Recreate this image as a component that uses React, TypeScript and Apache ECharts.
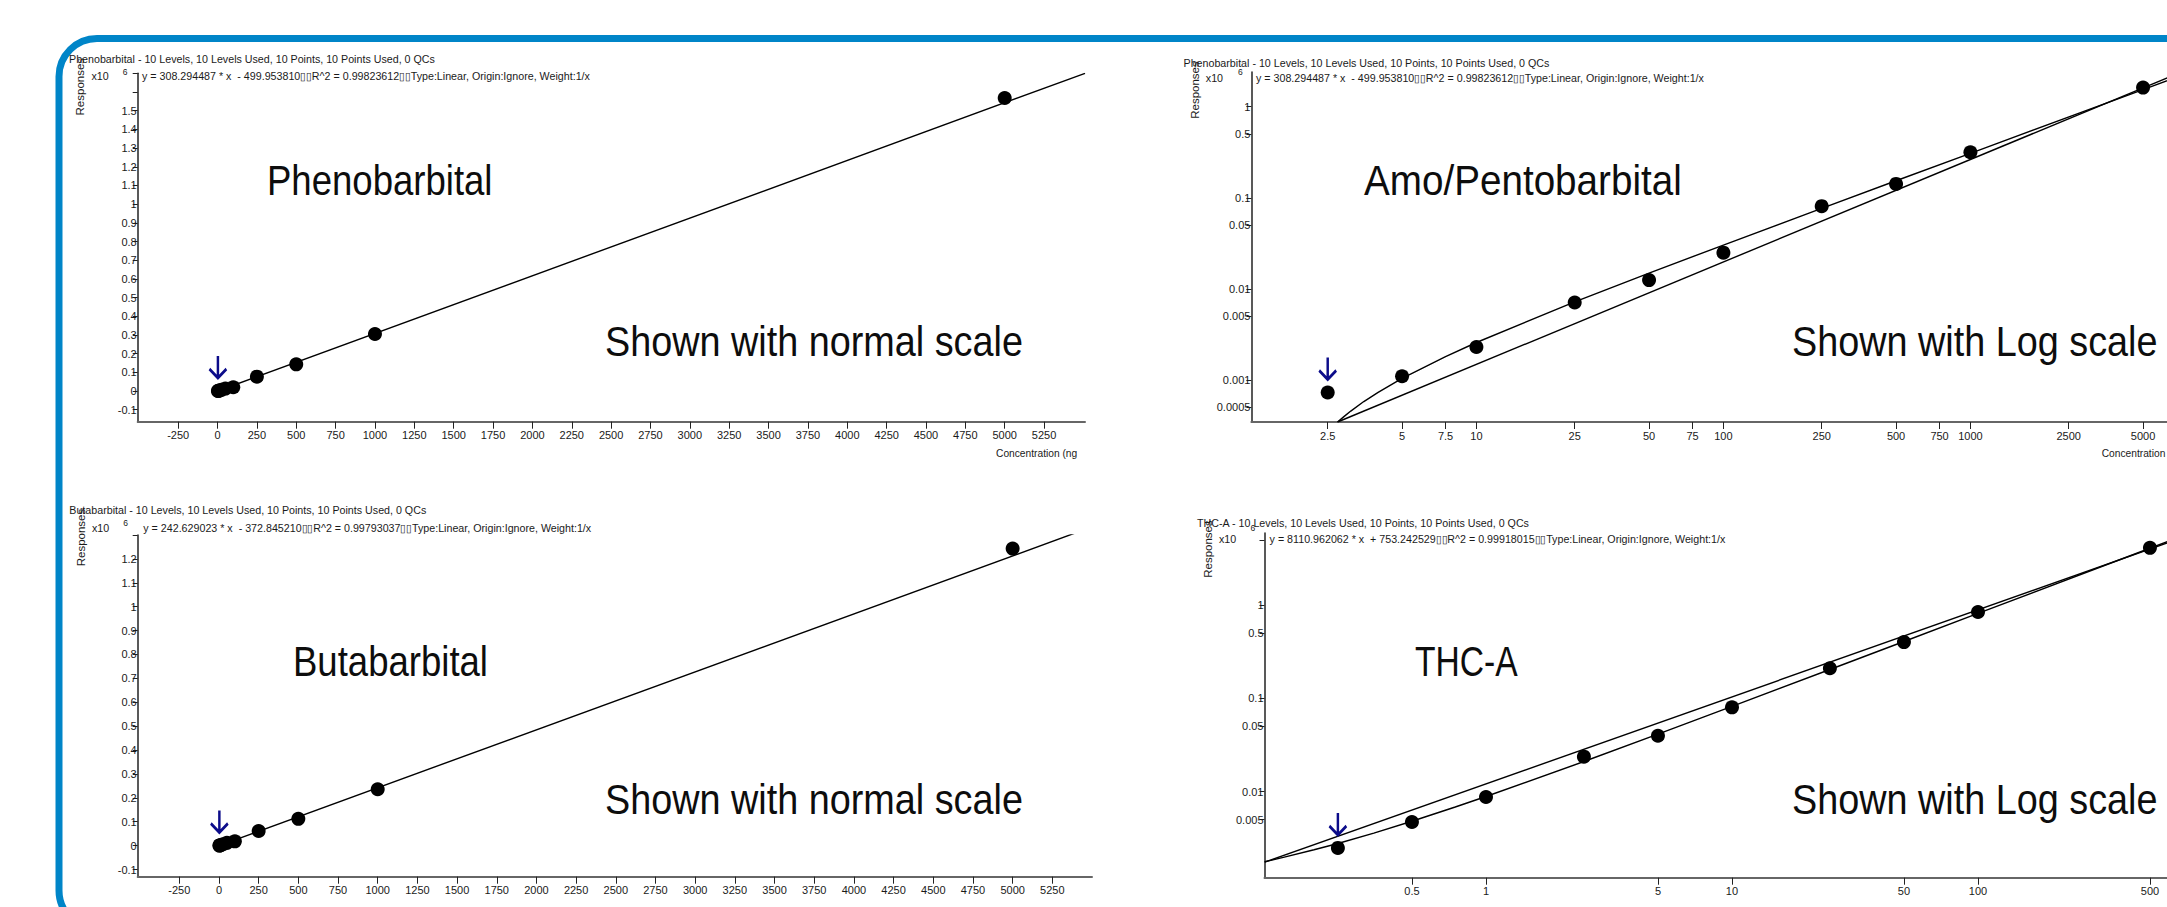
import React, { useEffect, useRef } from 'react';
import * as echarts from 'echarts';

// ---------- data (response in x10^6) ----------
const linConc = [2.5, 5, 10, 25, 50, 100, 250, 500, 1000, 5000];
const phenoResp = [0.0005, 0.0011, 0.0023, 0.0065, 0.013, 0.02, 0.077, 0.143, 0.305, 1.568];
const butaResp = [0.0003, 0.0009, 0.002, 0.0057, 0.0118, 0.018, 0.0615, 0.112, 0.236, 1.243];

const amoConc = [2.5, 5, 10, 25, 50, 100, 250, 500, 1000, 5000];
const amoResp = [0.00073, 0.0011, 0.0023, 0.0071, 0.0125, 0.025, 0.081, 0.142, 0.316, 1.62];

const thcConc = [0.25, 0.5, 1, 2.5, 5, 10, 25, 50, 100, 500];
const thcResp = [0.00249, 0.00472, 0.00875, 0.0237, 0.0397, 0.08, 0.21, 0.4, 0.84, 4.1];

// fitted curves
const phenoFit = [[2.5, 0.0003], [5510, 1.7]];
const butaFit = [[2.5, 0.0002], [5500, 1.334]];
const amoFitCurve = [
  [2.74, 0.000346], [2.9, 0.000394], [3.1, 0.000456], [3.5, 0.00058], [4, 0.00073],
  [5, 0.00104], [7.5, 0.00181], [10, 0.00258], [25, 0.0072], [50, 0.0149], [100, 0.0303],
  [250, 0.0766], [500, 0.154], [1000, 0.308], [5000, 1.54], [8000, 2.47],
];
const amoFitLine = [[2.74, 0.000346], [8000, 2.73]];
const thcFitLine = [[0.126, 0.00175], [1000, 7.6]];
const thcFitCurve = [
  [0.126, 0.00177], [0.15, 0.00197], [0.2, 0.00238], [0.25, 0.00278], [0.35, 0.00359],
  [0.5, 0.00481], [0.75, 0.00684], [1, 0.00886], [2.5, 0.021], [5, 0.0413], [10, 0.0819],
  [25, 0.2035], [50, 0.406], [100, 0.812], [500, 4.06], [1000, 8.11],
];

// ---------- ticks / labels ----------
const linXTicks = [-250, 0, 250, 500, 750, 1000, 1250, 1500, 1750, 2000, 2250, 2500, 2750, 3000,
  3250, 3500, 3750, 4000, 4250, 4500, 4750, 5000, 5250];
const phenoYTicks = [-0.1, 0, 0.1, 0.2, 0.3, 0.4, 0.5, 0.6, 0.7, 0.8, 0.9, 1, 1.1, 1.2, 1.3, 1.4, 1.5, 1.6, 1.7];
const phenoYLabels = [-0.1, 0, 0.1, 0.2, 0.3, 0.4, 0.5, 0.6, 0.7, 0.8, 0.9, 1, 1.1, 1.2, 1.3, 1.4, 1.5];
const butaYTicks = [-0.1, 0, 0.1, 0.2, 0.3, 0.4, 0.5, 0.6, 0.7, 0.8, 0.9, 1, 1.1, 1.2, 1.3];
const butaYLabels = [-0.1, 0, 0.1, 0.2, 0.3, 0.4, 0.5, 0.6, 0.7, 0.8, 0.9, 1, 1.1, 1.2];
const amoXTicks = [2.5, 5, 7.5, 10, 25, 50, 75, 100, 250, 500, 750, 1000, 2500, 5000];
const amoYTicks = [0.0005, 0.001, 0.005, 0.01, 0.05, 0.1, 0.5, 1];
const thcXTicks = [0.5, 1, 5, 10, 50, 100, 500];
const thcYTicks = [0.005, 0.01, 0.05, 0.1, 0.5, 1, 5];
const thcYLabels = [0.005, 0.01, 0.05, 0.1, 0.5, 1];

// ---------- texts ----------
const titleTail = ' - 10 Levels, 10 Levels Used, 10 Points, 10 Points Used, 0 QCs';
const titles = ['Phenobarbital' + titleTail, 'Butabarbital' + titleTail, 'Phenobarbital' + titleTail, 'THC-A' + titleTail];
const BX = '\u25AF\u25AF';
const tail = 'Type:Linear, Origin:Ignore, Weight:1/x';
const equations = [
  'y = 308.294487 * x  - 499.953810' + BX + 'R^2 = 0.99823612' + BX + tail,
  'y = 242.629023 * x  - 372.845210' + BX + 'R^2 = 0.99793037' + BX + tail,
  'y = 308.294487 * x  - 499.953810' + BX + 'R^2 = 0.99823612' + BX + tail,
  'y = 8110.962062 * x  + 753.242529' + BX + 'R^2 = 0.99918015' + BX + tail,
];
const bigNames = ['Phenobarbital', 'Butabarbital', 'Amo/Pentobarbital', 'THC-A'];
const scaleNotes = ['Shown with normal scale', 'Shown with normal scale', 'Shown with Log scale', 'Shown with Log scale'];
const axisNameX = 'Concentration (ng/ml)';
const axisNameY = 'Responses';

const FONT = 'Liberation Sans, Arial, Helvetica, sans-serif';
const INK = '#1a1a1a';

const lg = (v: number) => Math.log10(v);
const fmtLin = (v: number) => String(+v.toFixed(3));
const fmtLog = (v: number) => String(+Math.pow(10, v).toPrecision(3));

function xAxis(gridIndex: number, min: number, max: number, ticks: number[], labels: number[], fmt: (v: number) => string) {
  return {
    type: 'value', gridIndex, min, max, silent: true,
    splitLine: { show: false },
    axisLine: { show: true, onZero: false, lineStyle: { color: '#666', width: 2 } },
    axisTick: { show: true, customValues: ticks, length: 7, lineStyle: { color: '#222', width: 1 } },
    axisLabel: { customValues: labels, formatter: fmt, margin: 8, color: INK, fontSize: 11, fontFamily: FONT },
  };
}
function yAxis(gridIndex: number, min: number, max: number, ticks: number[], labels: number[], fmt: (v: number) => string) {
  return {
    type: 'value', gridIndex, min, max, silent: true,
    splitLine: { show: false },
    axisLine: { show: true, onZero: false, lineStyle: { color: '#222', width: 1.5 } },
    axisTick: { show: true, customValues: ticks, length: 5, lineStyle: { color: '#222', width: 1 } },
    axisLabel: { customValues: labels, formatter: fmt, margin: 1, color: INK, fontSize: 11, fontFamily: FONT },
  };
}

const ARROW = 'path://M9,0 L9,22 M1,13 L9,22 L17,13';

function pointsSeries(i: number, data: number[][]) {
  return {
    type: 'scatter', xAxisIndex: i, yAxisIndex: i, data, symbol: 'circle', symbolSize: 14,
    itemStyle: { color: '#000', opacity: 1 }, silent: true, z: 4,
  };
}
function lineSeries(i: number, data: number[][]) {
  return {
    type: 'line', xAxisIndex: i, yAxisIndex: i, data, showSymbol: false, clip: true, smooth: false,
    lineStyle: { color: '#000', width: 1.4, opacity: 1 }, silent: true, z: 3,
  };
}
function arrowSeries(i: number, pt: number[]) {
  return {
    type: 'scatter', xAxisIndex: i, yAxisIndex: i, data: [pt], symbol: ARROW, symbolSize: [17, 22],
    symbolOffset: [0, -24], silent: true, z: 5,
    itemStyle: { color: 'rgba(0,0,0,0)', borderColor: '#0c0c8a', borderWidth: 2.8, opacity: 1 },
  };
}

function txt(x: number, y: number, text: string, o: any = {}) {
  return {
    type: 'text', x, y, scaleX: o.sx ?? 0.93, rotation: o.rot ?? 0, silent: true, z: 10,
    style: {
      text, fill: o.fill ?? INK, fontSize: o.fs ?? 11.5, fontFamily: o.ff ?? FONT,
      align: o.align ?? 'left', verticalAlign: 'middle',
      ...(o.w ? { width: o.w, overflow: 'truncate', ellipsis: '' } : {}),
    },
  };
}

export default function App() {
  const ref = useRef<HTMLDivElement>(null);
  useEffect(() => {
    if (!ref.current) return;
    const chart = echarts.init(ref.current, undefined, { renderer: 'svg' });

    const toLog = (d: number[][]) => d.map(([x, y]) => [lg(x), lg(y)]);
    const phenoPts = linConc.map((c, k) => [c, phenoResp[k]]);
    const butaPts = linConc.map((c, k) => [c, butaResp[k]]);
    const amoPts = amoConc.map((c, k) => [lg(c), lg(amoResp[k])]);
    const thcPts = thcConc.map((c, k) => [lg(c), lg(thcResp[k])]);

    const headers = [
      { tx: 69, ty: 59.3, ex: 142, ey: 76, xx: 91.5, sx6: 122.8, sy6: 71.7, rx: 80.4, ry: 86.7 },
      { tx: 69.3, ty: 510, ex: 143.3, ey: 527.7, xx: 92, sx6: 123.3, sy6: 523, rx: 81, ry: 537.5 },
      { tx: 1183.5, ty: 62.7, ex: 1256, ey: 78.3, xx: 1205.8, sx6: 1238, sy6: 72, rx: 1194.6, ry: 90 },
      { tx: 1197, ty: 522.7, ex: 1269.6, ey: 539.3, xx: 1219, sx6: 1250.4, sy6: 527.5, rx: 1208, ry: 549 },
    ];
    const graphics: any[] = [
      {
        type: 'rect', silent: true, z: 1,
        shape: { x: 59, y: 38.5, width: 2300, height: 890, r: 38 },
        style: { fill: 'none', stroke: '#0085C8', lineWidth: 7 },
      },
    ];
    headers.forEach((h, k) => {
      graphics.push(txt(h.rx, h.ry, axisNameY, { rot: Math.PI / 2, sx: 1, align: 'center', fs: 11.5 }));
      graphics.push(txt(h.tx, h.ty, titles[k]));
      graphics.push(txt(h.xx, h.ey, 'x10'));
      graphics.push(txt(h.sx6, h.sy6, '6', { fs: 8.5, sx: 1 }));
      graphics.push(txt(h.ex, h.ey, equations[k]));
    });
    // axis names (clipped like the reference)
    graphics.push(txt(996, 453.3, axisNameX, { fs: 11, w: 95 }));
    graphics.push(txt(1003, 912, axisNameX, { fs: 11, w: 95 }));
    graphics.push(txt(2101.7, 452.7, axisNameX, { fs: 11 }));
    graphics.push(txt(2106.7, 912, axisNameX, { fs: 11 }));
    // big annotations
    const BIG = { fs: 42, fill: '#0d0d0d' };
    graphics.push(txt(267, 180, bigNames[0], { ...BIG, sx: 0.87 }));
    graphics.push(txt(605, 341, scaleNotes[0], { ...BIG, sx: 0.9 }));
    graphics.push(txt(293, 661, bigNames[1], { ...BIG, sx: 0.87 }));
    graphics.push(txt(605, 799, scaleNotes[1], { ...BIG, sx: 0.9 }));
    graphics.push(txt(1364, 180, bigNames[2], { ...BIG, sx: 0.92 }));
    graphics.push(txt(1792, 341, scaleNotes[2], { ...BIG, sx: 0.9 }));
    graphics.push(txt(1415, 662, bigNames[3], { ...BIG, sx: 0.8 }));
    graphics.push(txt(1792, 799, scaleNotes[3], { ...BIG, sx: 0.9 }));

    const option: any = {
      animation: false,
      backgroundColor: '#ffffff',
      grid: [
        { left: 137.7, top: 73.3, width: 947.3, height: 348.4, outerBoundsMode: 'none', containLabel: false },
        { left: 137.7, top: 535, width: 954.3, height: 341.7, outerBoundsMode: 'none', containLabel: false },
        { left: 1251.4, top: 72, width: 978.6, height: 350, outerBoundsMode: 'none', containLabel: false },
        { left: 1264.5, top: 533, width: 965.5, height: 344.7, outerBoundsMode: 'none', containLabel: false },
      ],
      xAxis: [
        xAxis(0, -507, 5510, linXTicks, linXTicks, fmtLin),
        xAxis(1, -512, 5500, linXTicks, linXTicks, fmtLin),
        xAxis(2, 0.089, 4.051, amoXTicks.map(lg), amoXTicks.map(lg), fmtLog),
        xAxis(3, -0.9004, 3.0244, thcXTicks.map(lg), thcXTicks.map(lg), fmtLog),
      ],
      yAxis: [
        yAxis(0, -0.164, 1.7, phenoYTicks, phenoYLabels, fmtLin),
        yAxis(1, -0.13, 1.3, butaYTicks, butaYLabels, fmtLin),
        yAxis(2, -3.461, 0.381, amoYTicks.map(lg), amoYTicks.map(lg), fmtLog),
        yAxis(3, -2.923, 0.7717, thcYTicks.map(lg), thcYLabels.map(lg), fmtLog),
      ],
      series: [
        lineSeries(0, phenoFit), pointsSeries(0, phenoPts), arrowSeries(0, phenoPts[0]),
        lineSeries(1, butaFit), pointsSeries(1, butaPts), arrowSeries(1, butaPts[0]),
        lineSeries(2, toLog(amoFitCurve)), lineSeries(2, toLog(amoFitLine)),
        pointsSeries(2, amoPts), arrowSeries(2, amoPts[0]),
        lineSeries(3, toLog(thcFitLine)), lineSeries(3, toLog(thcFitCurve)),
        pointsSeries(3, thcPts), arrowSeries(3, thcPts[0]),
      ],
      graphic: { elements: graphics },
    };
    chart.setOption(option);
    return () => chart.dispose();
  }, []);

  return (
    <div
      ref={ref}
      style={{ position: 'absolute', left: 0, top: 0, width: 2167, height: 907, background: '#fff' }}
    />
  );
}
